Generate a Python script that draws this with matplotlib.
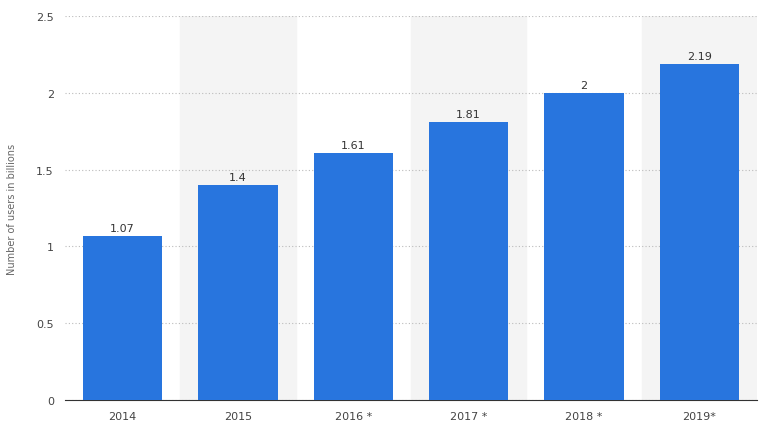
import matplotlib
matplotlib.use("Agg")
import matplotlib.pyplot as plt
import numpy as np

years = ["2014", "2015", "2016 *", "2017 *", "2018 *", "2019*"]
users = [1.07, 1.4, 1.61, 1.81, 2, 2.19]
labels = ["1.07", "1.4", "1.61", "1.81", "2", "2.19"]
BAR_COLOR = "#2875de"

fig = plt.figure(figsize=(7.70, 4.35), dpi=100)
ax = fig.add_axes([65/770, 34/435, 692/770, 384/435])
x = np.arange(len(years))

# shaded bands behind every other category
for i in x[1::2]:
    ax.axvspan(i - 0.5, i + 0.5, color="#f4f4f4", zorder=0)

ax.bar(x, users, width=0.69, color=BAR_COLOR, zorder=3)
for xi, v, t in zip(x, users, labels):
    ax.text(xi, v + 0.02, t, ha="center", va="bottom", fontsize=8, color="#333333")

ax.set_xlim(-0.5, len(years) - 0.5)
ax.set_ylim(0, 2.5)
ax.set_yticks([0, 0.5, 1, 1.5, 2, 2.5])
ax.set_yticklabels(["0", "0.5", "1", "1.5", "2", "2.5"])
ax.set_xticks(x)
ax.set_xticklabels(years)
ax.tick_params(labelsize=8, colors="#444444", length=0, pad=8)
ax.yaxis.grid(True, linestyle=(0, (1, 2)), color="#bbbbbb", linewidth=0.8, zorder=1)
ax.set_ylabel("Number of users in billions", fontsize=7, color="#666666", labelpad=14)
for s in ["top", "right", "left"]:
    ax.spines[s].set_visible(False)
ax.spines["bottom"].set_color("#333333")

fig.savefig("out.png", dpi=100)
